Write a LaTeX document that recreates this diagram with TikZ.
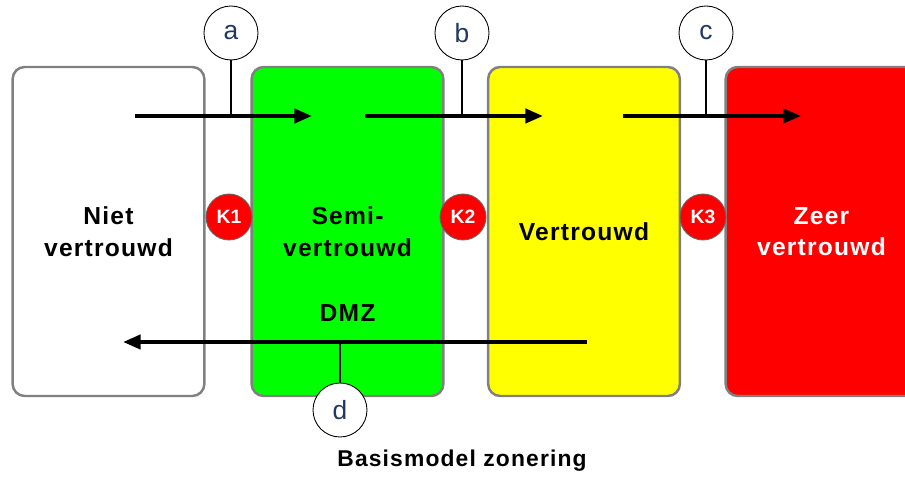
\documentclass[tikz,border=0pt]{standalone}
\usepackage{fontspec}
\setmainfont{Liberation Sans}
\newfontfamily\widefont[LetterSpace=5]{Liberation Sans}
\usetikzlibrary{shapes.geometric, arrows.meta, positioning}
\definecolor{zonegreen}{RGB}{0,255,0}
\definecolor{zoneyellow}{RGB}{255,255,0}
\definecolor{zonered}{RGB}{255,0,0}
\definecolor{zoneborder}{RGB}{128,128,128}
\definecolor{labelblue}{RGB}{31,56,100}
\tikzstyle{zone} = [rectangle, rounded corners=0.24cm, minimum width=3.82cm, minimum height=6.58cm, draw=zoneborder, line width=1.4pt, text width=3.6cm, align=center, font=\widefont\bfseries\fontsize{14}{18}\selectfont]
\tikzstyle{arrow} = [line width=2.2pt, -{Triangle[length=10pt,width=8pt]}]
\tikzstyle{marker} = [circle, draw=black, line width=0.5pt, fill=white, minimum size=1.08cm, inner sep=0pt, text=labelblue, font=\fontsize{15}{15}\selectfont]
\tikzstyle{gate} = [circle, draw=black!60, line width=0.5pt, fill=zonered, minimum size=0.92cm, inner sep=0pt, text=white, font=\bfseries\fontsize{11}{11}\selectfont]
\tikzstyle{pointer} = [line width=0.6pt]

\begin{document}
\begin{tikzpicture}[node distance=0.94cm]
\clip (0,0) rectangle (18.1,9.56);

% Zones
\node (untrusted) [zone, fill=white] at (2.17,4.93) {Niet\\vertrouwd};
\node (semi) [zone, fill=zonegreen] at (6.95,4.93) {Semi-\\vertrouwd};
\node (trusted) [zone, fill=zoneyellow] at (11.68,4.93) {Vertrouwd};
\node (high) [zone, fill=zonered, text=white] at (16.43,4.93) {Zeer\\vertrouwd};
\node (dmz) [font=\widefont\bfseries\fontsize{14}{14}\selectfont] at (semi.center |- 0,3.3) {DMZ};

% Gates
\node (k1) [gate] at (4.58,5.22) {K1};
\node (k2) [gate] at (9.26,5.22) {K2};
\node (k3) [gate] at (14.06,5.22) {K3};

% Flows
\coordinate (in1) at (2.7,7.24);
\coordinate (out1) at (6.24,7.24);
\coordinate (in2) at (7.3,7.24);
\coordinate (out2) at (10.86,7.24);
\coordinate (in3) at (12.46,7.24);
\coordinate (out3) at (16.02,7.24);
\coordinate (back1) at (11.74,2.72);
\coordinate (back2) at (2.46,2.72);
\draw [arrow] (in1) -- (out1);
\draw [arrow] (in2) -- (out2);
\draw [arrow] (in3) -- (out3);
\draw [arrow] (back1) -- (back2);

% Markers
\node (a) [marker] at (4.62,8.9) {a};
\node (b) [marker] at (9.24,8.9) {b};
\node (c) [marker] at (14.12,8.9) {c};
\node (d) [marker] at (6.8,1.36) {d};
\draw [pointer] (a) -- (a |- in1);
\draw [pointer] (b) -- (b |- in2);
\draw [pointer] (c) -- (c |- in3);
\draw [pointer] (d) -- (d |- back1);

% Caption
\node (caption) [font=\widefont\bfseries\fontsize{13}{13}\selectfont] at (9.24,0.34) {Basismodel zonering};

\end{tikzpicture}
\end{document}
